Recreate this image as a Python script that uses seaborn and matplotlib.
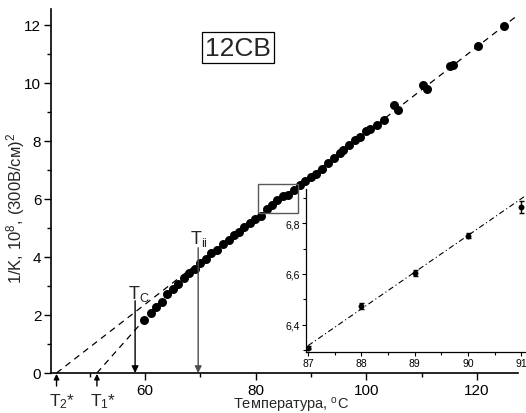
import matplotlib
matplotlib.use("Agg")
import matplotlib.pyplot as plt
import seaborn as sns
import numpy as np
import pandas as pd
from matplotlib.patches import Rectangle
from matplotlib.ticker import FuncFormatter, MultipleLocator

# ---------------- data ----------------
temp_main = [59.8, 61.0, 62.0, 63.0, 64.0, 65.0, 66.0, 67.0, 68.0, 69.0, 69.9,
             71.0, 71.9, 73.0, 74.0, 75.1, 76.1, 76.9, 77.9, 78.9, 79.9, 80.9,
             82.0, 82.9, 83.9, 85.0, 85.9, 87.0, 88.0, 88.9, 89.9, 90.9, 91.9,
             93.0, 94.2, 95.2, 95.7, 96.9, 98.0, 98.9, 100.0, 100.6, 102.0,
             103.1, 105.0, 105.7, 110.3, 110.9, 115.2, 115.7, 120.1, 124.9]
kinv_main = [1.83, 2.06, 2.26, 2.45, 2.72, 2.91, 3.06, 3.29, 3.44, 3.60, 3.78,
             3.94, 4.13, 4.24, 4.44, 4.58, 4.75, 4.86, 5.04, 5.16, 5.32, 5.43,
             5.64, 5.78, 5.95, 6.11, 6.12, 6.32, 6.48, 6.62, 6.75, 6.87, 7.05,
             7.24, 7.42, 7.59, 7.70, 7.85, 8.03, 8.15, 8.33, 8.42, 8.56,
             8.73, 9.25, 9.06, 9.92, 9.78, 10.57, 10.63, 11.29, 11.98]

temp_inset = [87, 88, 89, 90, 91]
kinv_inset = [6.308, 6.473, 6.604, 6.751, 6.863]
err_inset = [0.006, 0.013, 0.012, 0.010, 0.024]

# linear extrapolations (x-intercepts and slopes)
T2_star, slope_hi, hi_end = 44.0, 0.148, 127.2
T1_star, slope_lo, lo_end = 51.3, 0.215, 64.0
inset_fit_x0, inset_fit_y0, inset_fit_slope = 87.0, 6.317, 0.145

T_c, T_c_top = 58.2, 2.49
T_ii, T_ii_top = 69.6, 4.32

main_xticks = [60, 80, 100, 120]
main_yticks = [0, 2, 4, 6, 8, 10, 12]
inset_xticks = [87, 88, 89, 90, 91]
inset_yticks = [6.4, 6.6, 6.8]

# ---------------- style ----------------
sns.set_theme(style="ticks")
plt.rcParams['font.family'] = ['Liberation Sans', 'DejaVu Sans']
plt.rcParams['mathtext.default'] = 'regular'
plt.rcParams['axes.edgecolor'] = 'black'
plt.rcParams['xtick.color'] = 'black'
plt.rcParams['ytick.color'] = 'black'

W, H = 526, 414
fig = plt.figure(figsize=(W / 100, H / 100), dpi=100)
ax = fig.add_axes([51 / W, 40 / H, 467 / W, 364 / H])

df = pd.DataFrame({"T": temp_main, "K": kinv_main})
sns.scatterplot(data=df, x="T", y="K", ax=ax, color="black", s=42,
                edgecolor="black", linewidth=0, legend=False, zorder=3)

xh = np.array([T2_star, hi_end])
ax.plot(xh, slope_hi * (xh - T2_star), ls=(0, (5, 4)), color="black", lw=0.9, zorder=2)
xl = np.array([T1_star, lo_end])
ax.plot(xl, slope_lo * (xl - T1_star), ls=(0, (5, 4)), color="black", lw=0.9, zorder=2)

ax.set_xlim(43.0, 127.4)
ax.set_ylim(0, 12.55)
ax.set_xticks(main_xticks)
ax.set_yticks(main_yticks)
ax.xaxis.set_minor_locator(MultipleLocator(10))
ax.yaxis.set_minor_locator(MultipleLocator(1))
ax.tick_params(which="major", direction="out", length=5, width=1, labelsize=11, pad=2)
ax.tick_params(which="minor", direction="out", length=3, width=1)
for s in ["top", "right"]:
    ax.spines[s].set_visible(False)
for s in ["left", "bottom"]:
    ax.spines[s].set_linewidth(1.2)

ax.set_xlabel("Температура, $^o$C", fontsize=10.5, labelpad=0)
ax.xaxis.set_label_coords(0.515, -0.061)
ax.set_ylabel("1/K, 10$^8$, (300В/см)$^2$", fontsize=12)
ax.yaxis.set_label_coords(-0.052, 0.455)

# vertical arrows Tc, Tii
ax.annotate("", xy=(T_c, 0), xytext=(T_c, T_c_top),
            arrowprops=dict(arrowstyle="-|>", color="black", lw=1,
                            mutation_scale=10, shrinkA=0, shrinkB=0))
ax.annotate("", xy=(T_ii, 0), xytext=(T_ii, T_ii_top),
            arrowprops=dict(arrowstyle="-|>", color="0.3", lw=1,
                            mutation_scale=10, shrinkA=0, shrinkB=0))
ax.text(56.9, 2.6, "T$_C$", fontsize=13, ha="left", va="baseline")
ax.text(68.1, 4.47, "T$_{ii}$", fontsize=13, ha="left", va="baseline")

# T* arrows below the axis
for xs, lab in [(T2_star, "T$_2$*"), (T1_star, "T$_1$*")]:
    ax.annotate("", xy=(xs, -0.03), xytext=(xs, -0.45),
                arrowprops=dict(arrowstyle="-|>", color="black", lw=1,
                                mutation_scale=8, shrinkA=0, shrinkB=0),
                annotation_clip=False)
    ax.text(xs - 1.3, -1.12, lab, fontsize=12.5, ha="left", va="baseline", clip_on=False)

# sample label
ax.text(76.8, 11.22, "12CB", fontsize=19, ha="center", va="center",
        bbox=dict(boxstyle="square,pad=0.12", fc="white", ec="black", lw=0.9))

# zoom rectangle
ax.add_patch(Rectangle((80.4, 5.53), 7.3, 0.97, fill=False, ec="0.35", lw=1, zorder=4))

# ---------------- inset ----------------
axin = fig.add_axes([306 / W, (H - 352.7) / H, (526.7 - 306) / W, (352.7 - 190) / H])
axin.patch.set_alpha(0)
xi = np.array([inset_fit_x0, 91.1])
axin.plot(xi, inset_fit_y0 + inset_fit_slope * (xi - inset_fit_x0),
          ls=(0, (5, 2.5, 1, 2.5)), color="black", lw=0.8)
axin.errorbar(temp_inset, kinv_inset, yerr=err_inset, fmt="none", ecolor="black",
              elinewidth=1, capsize=1.8, capthick=1)
sns.scatterplot(x=temp_inset, y=kinv_inset, ax=axin, color="black", s=18,
                linewidth=0, legend=False, zorder=3)
axin.set_xlim(86.96, 91.1)
axin.set_ylim(6.293, 6.935)
axin.set_xticks(inset_xticks)
axin.set_yticks(inset_yticks)
axin.xaxis.set_minor_locator(MultipleLocator(0.5))
axin.yaxis.set_minor_locator(MultipleLocator(0.1))
axin.yaxis.set_major_formatter(FuncFormatter(lambda v, p: f"{v:.1f}".replace(".", ",")))
axin.tick_params(which="major", direction="out", length=3, width=0.8, labelsize=7.5, pad=1.5)
axin.tick_params(which="minor", direction="out", length=2, width=0.8)
for s in ["top", "right"]:
    axin.spines[s].set_visible(False)
for s in ["left", "bottom"]:
    axin.spines[s].set_linewidth(0.9)

fig.savefig("out.png", dpi=100)
